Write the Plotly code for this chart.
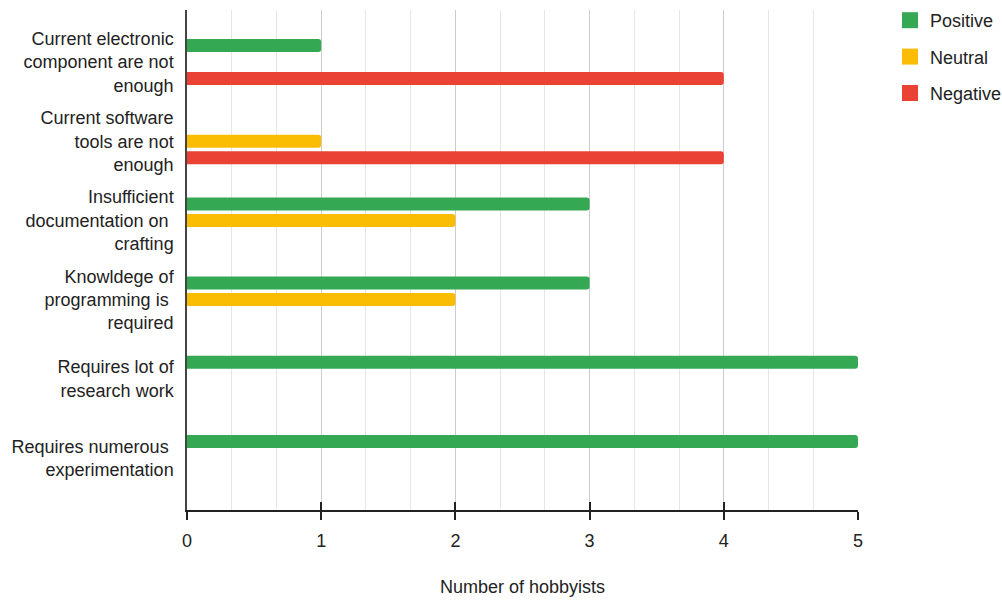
import plotly.graph_objects as go

categories = [
    "Current electronic<br>component are not<br>enough",
    "Current software<br>tools are not<br>enough",
    "Insufficient<br>documentation on\u00a0<br>crafting",
    "Knowldege of<br>programming is\u00a0<br>required",
    "Requires lot of<br>research work",
    "Requires numerous\u00a0<br>experimentation",
]
positive = [1, 0, 3, 3, 5, 5]
neutral = [0, 1, 2, 2, 0, 0]
negative = [4, 4, 0, 0, 0, 0]

series = [
    ("Positive", positive, "#34a853"),
    ("Neutral", neutral, "#fbbc04"),
    ("Negative", negative, "#ea4335"),
]

FONT = "Liberation Sans, Arial, sans-serif"

fig = go.Figure()
for name, vals, color in series:
    fig.add_trace(go.Bar(
        y=categories, x=vals, name=name, orientation="h",
        marker=dict(color=color, cornerradius=3, line=dict(width=0)),
        showlegend=False,
    ))
    # legend swatch
    fig.add_trace(go.Scatter(
        x=[None], y=[None], mode="markers", name=name,
        marker=dict(symbol="square", size=16, color=color),
        legendgroup=name, showlegend=True,
    ))

# centred tick marks across the x axis line
fig.add_trace(go.Scatter(x=[None], y=[None], xaxis="x2", showlegend=False))

fig.update_layout(
    width=1002, height=601,
    margin=dict(l=187, r=144, t=10, b=91, autoexpand=False),
    paper_bgcolor="white", plot_bgcolor="white",
    font=dict(family=FONT, size=18, color="#222222"),
    barmode="group", bargap=0.375, bargroupgap=0.21,
    legend=dict(
        x=1.0477, xanchor="left", y=1.016, yanchor="top", xref="paper",
        font=dict(size=18, color="#222222"), tracegroupgap=10,
        traceorder="grouped", itemwidth=30,
    ),
    xaxis=dict(
        range=[0, 5], dtick=1, tick0=0,
        showgrid=True, gridcolor="#cccccc", gridwidth=1,
        minor=dict(dtick=1 / 3, tick0=0, showgrid=True, gridcolor="#e6e6e6", gridwidth=1),
        showline=True, linecolor="#222222", linewidth=1.5,
        ticks="outside", ticklen=8, tickcolor="#222222", tickwidth=1.5,
        ticklabelstandoff=6, zeroline=False,
        title=dict(text="Number of hobbyists", standoff=30, font=dict(size=18)),
        tickfont=dict(size=18),
    ),
    xaxis2=dict(
        range=[0, 5], dtick=1, overlaying="x", anchor="y", side="bottom",
        showgrid=False, showticklabels=False, zeroline=False,
        ticks="inside", ticklen=8, tickcolor="#222222", tickwidth=1.5,
    ),
    yaxis=dict(
        type="category", categoryorder="array", categoryarray=categories,
        range=[5.657, -0.657],
        showgrid=False, zeroline=False,
        showline=True, linecolor="#444444", linewidth=1.5,
        ticks="", ticklabelstandoff=8,
        tickfont=dict(size=18),
    ),
)

fig.write_html("out.html")
